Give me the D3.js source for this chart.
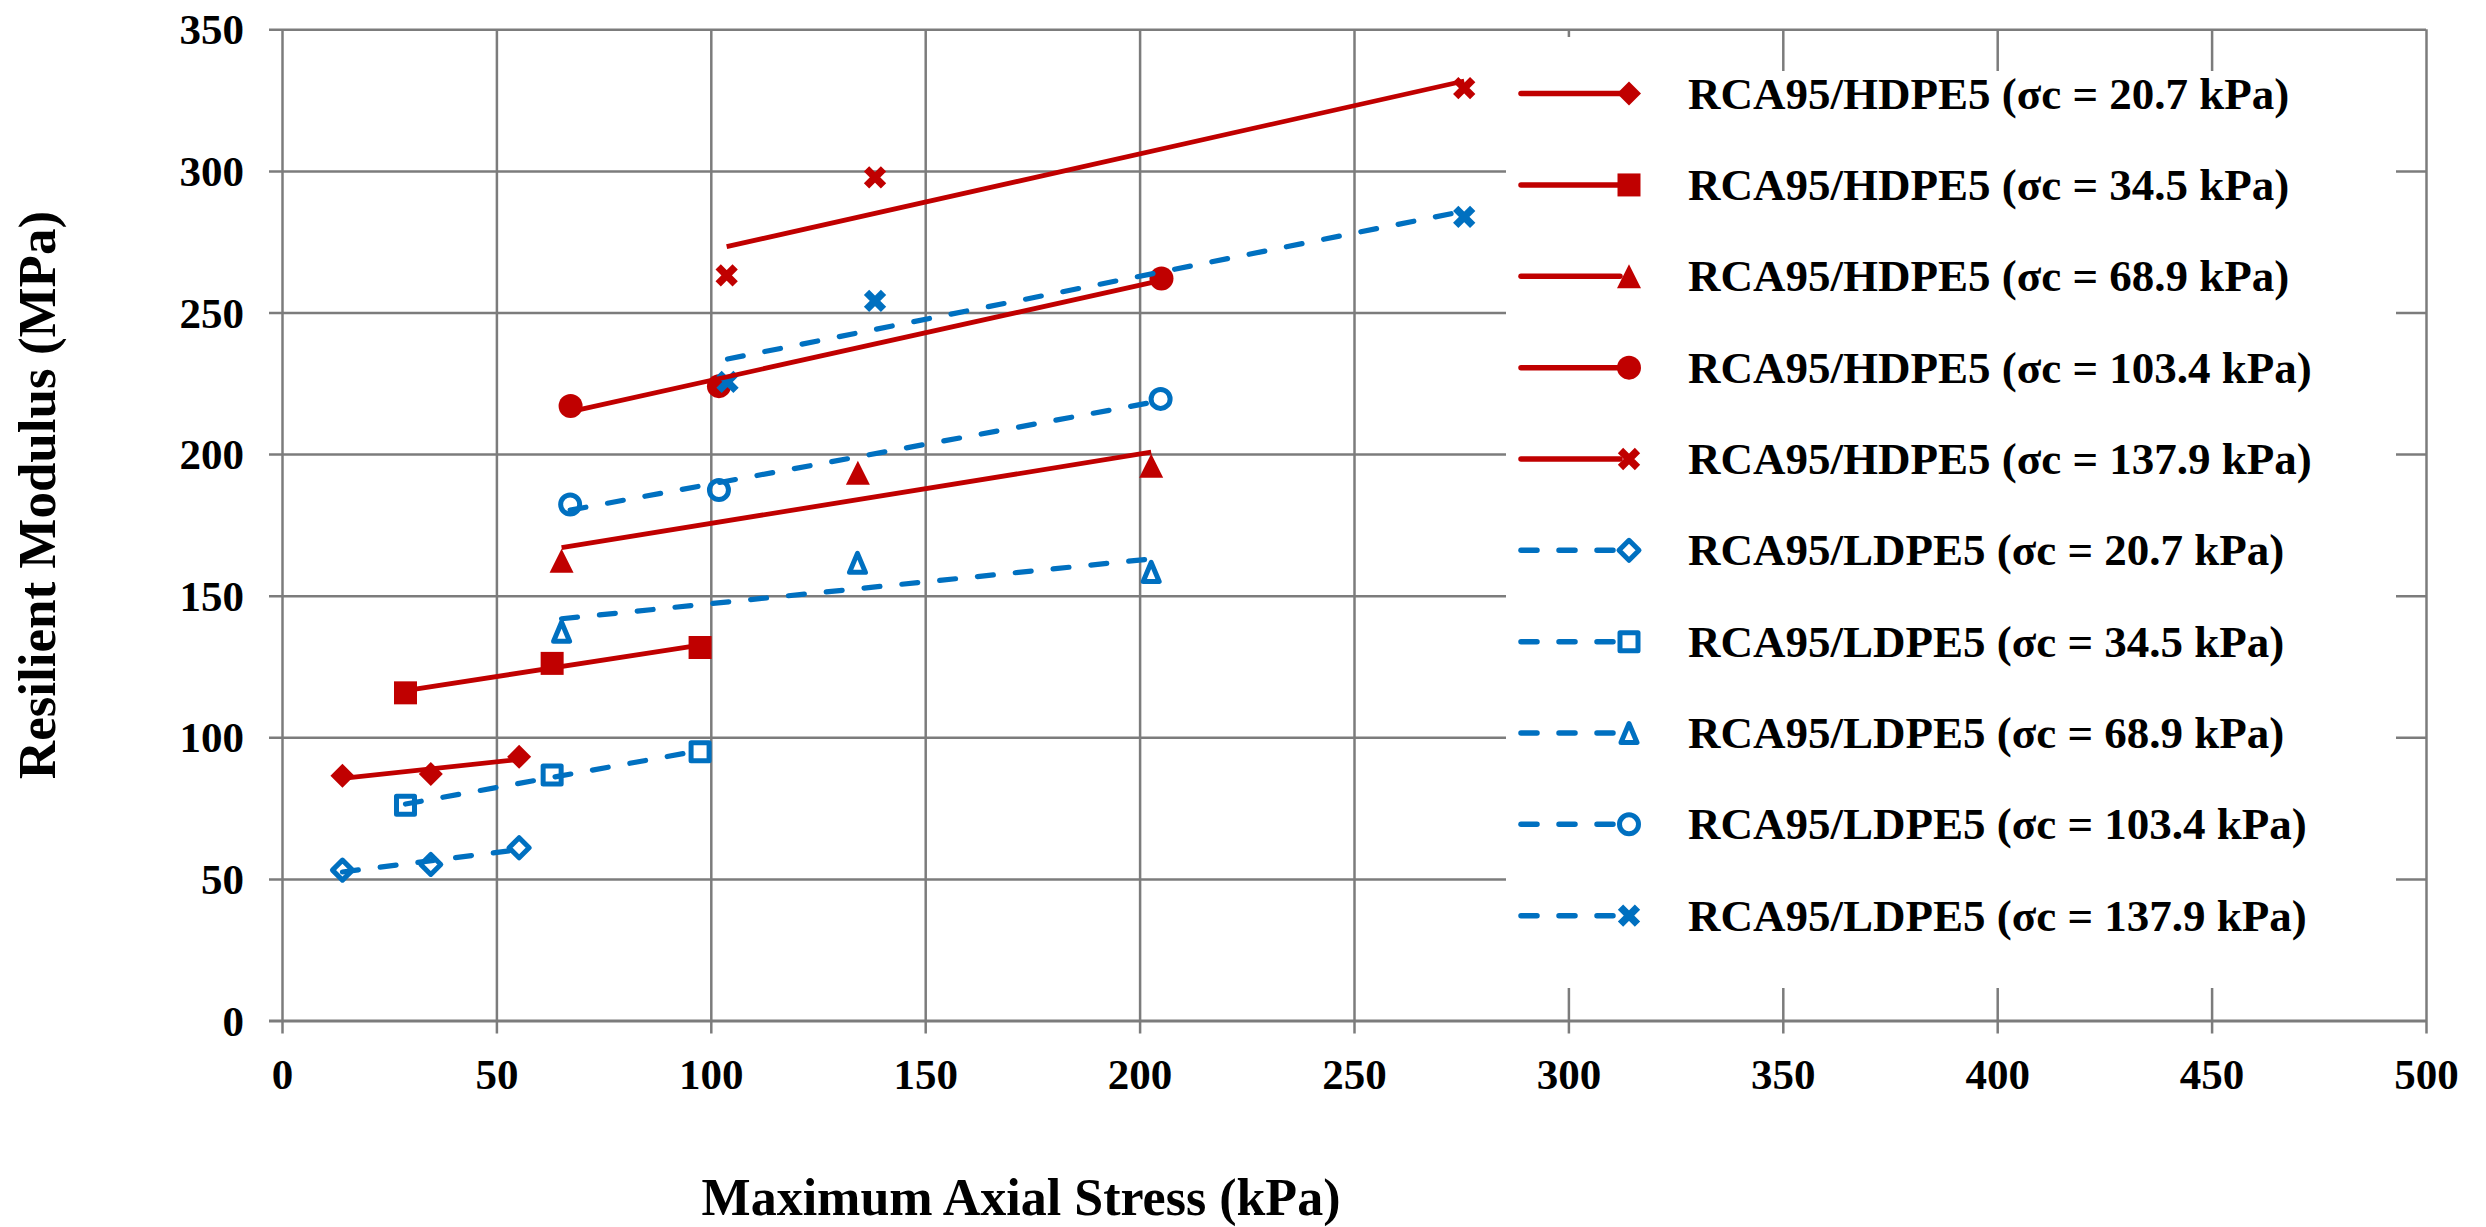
<!DOCTYPE html>
<html>
<head>
<meta charset="utf-8">
<script src="https://cdn.jsdelivr.net/npm/d3@7"></script>
<style>
  body { margin: 0; background: #fff; }
  svg { display: block; }
  text { font-family: "Liberation Serif", "Times New Roman", serif; font-weight: bold; fill: #000; }
</style>
</head>
<body>
<svg id="chart" width="2486" height="1227"></svg>
<script>
// ---------------- data ----------------
const xTicks = [0, 50, 100, 150, 200, 250, 300, 350, 400, 450, 500];
const yTicks = [0, 50, 100, 150, 200, 250, 300, 350];

const seriesLabels = [
  "RCA95/HDPE5 (σc = 20.7 kPa)",
  "RCA95/HDPE5 (σc = 34.5 kPa)",
  "RCA95/HDPE5 (σc = 68.9 kPa)",
  "RCA95/HDPE5 (σc = 103.4 kPa)",
  "RCA95/HDPE5 (σc = 137.9 kPa)",
  "RCA95/LDPE5 (σc = 20.7 kPa)",
  "RCA95/LDPE5 (σc = 34.5 kPa)",
  "RCA95/LDPE5 (σc = 68.9 kPa)",
  "RCA95/LDPE5 (σc = 103.4 kPa)",
  "RCA95/LDPE5 (σc = 137.9 kPa)"
];
const seriesMaterial = ["HDPE","HDPE","HDPE","HDPE","HDPE","LDPE","LDPE","LDPE","LDPE","LDPE"];
const seriesMarker = ["diamond","square","triangle","circle","x","diamond","square","triangle","circle","x"];

// maximum axial stress (kPa)
const hdpe207X  = [14.1, 34.7, 55.3];
const hdpe345X  = [28.8, 63.0, 97.5];
const hdpe689X  = [65.2, 134.3, 202.7];
const hdpe1034X = [67.3, 101.9, 205.1];
const hdpe1379X = [103.7, 138.3, 275.7];
const ldpe207X  = [14.1, 34.7, 55.3];
const ldpe345X  = [28.8, 63.0, 97.5];
const ldpe689X  = [65.2, 134.2, 202.7];
const ldpe1034X = [67.2, 101.9, 204.9];
const ldpe1379X = [103.9, 138.3, 275.7];

// resilient modulus (MPa)
const hdpe207Y  = [86.4, 87.0, 93.1];
const hdpe345Y  = [115.7, 126.1, 131.7];
const hdpe689Y  = [162.3, 193.4, 195.9];
const hdpe1034Y = [217.0, 224.0, 262.0];
const hdpe1379Y = [263.1, 297.7, 329.2];
const ldpe207Y  = [53.1, 55.1, 61.0];
const ldpe345Y  = [76.0, 86.7, 94.9];
const ldpe689Y  = [137.3, 161.6, 158.4];
const ldpe1034Y = [182.2, 187.3, 219.5];
const ldpe1379Y = [225.5, 254.1, 283.8];

const seriesX = [hdpe207X, hdpe345X, hdpe689X, hdpe1034X, hdpe1379X, ldpe207X, ldpe345X, ldpe689X, ldpe1034X, ldpe1379X];
const seriesY = [hdpe207Y, hdpe345Y, hdpe689Y, hdpe1034Y, hdpe1379Y, ldpe207Y, ldpe345Y, ldpe689Y, ldpe1034Y, ldpe1379Y];

// ---------------- layout / style ----------------
const RED = "#C00000", BLUE = "#0070C0", GRID = "#7c7c7c";
const svg = d3.select("#chart");
const x = d3.scaleLinear().domain([0, 500]).range([282, 2426]);
const y = d3.scaleLinear().domain([0, 350]).range([1020.5, 29.3]);
const plotW = x(500) - x(0), plotH = y(0) - y(350);

// gridlines + axes
const gx = svg.append("g").attr("transform", `translate(0,${y(0)})`)
  .call(d3.axisBottom(x).tickValues(xTicks).tickSize(-plotH).tickFormat(d3.format("d")));
gx.select(".domain").remove();
gx.selectAll(".tick line").attr("y1", 13).attr("stroke", GRID).attr("stroke-width", 2.5);
gx.selectAll(".tick text").attr("y", 68).attr("dy", 0).style("font-size", "43px")
  .style("font-family", "Liberation Serif, serif").style("font-weight", "bold").attr("fill", "#000");

const gy = svg.append("g").attr("transform", `translate(${x(0)},0)`)
  .call(d3.axisLeft(y).tickValues(yTicks).tickSize(-plotW).tickFormat(d3.format("d")));
gy.select(".domain").remove();
gy.selectAll(".tick line").attr("x1", -13).attr("stroke", GRID)
  .attr("stroke-width", d => d === 0 ? 3.2 : 2.5);
gy.selectAll(".tick text").attr("x", -38).attr("dy", "0.34em").style("font-size", "43px")
  .style("font-family", "Liberation Serif, serif").style("font-weight", "bold").attr("fill", "#000");

// legend background (covers gridlines)
const legX0 = 1506, legX1 = 2396, legY0 = 71, legY1 = 988;
svg.append("rect").attr("x", legX0).attr("y", legY0).attr("width", legX1 - legX0).attr("height", legY1 - legY0).attr("fill", "#fff");
svg.append("rect").attr("x", legX0).attr("y", 37).attr("width", 170).attr("height", legY0 - 37 + 1).attr("fill", "#fff");

// ---------------- markers ----------------
function markerPath(shape, open) {
  const p = d3.path();
  if (shape === "diamond") {
    const s = open ? 10 : 12;
    p.moveTo(0, -s); p.lineTo(s, 0); p.lineTo(0, s); p.lineTo(-s, 0); p.closePath();
  } else if (shape === "square") {
    const s = open ? 9 : 11.5;
    p.rect(-s, -s, 2 * s, 2 * s);
  } else if (shape === "triangle") {
    if (open) { p.moveTo(0, -9.5); p.lineTo(8, 9.5); p.lineTo(-8, 9.5); p.closePath(); }
    else { p.moveTo(0, -12); p.lineTo(12, 12); p.lineTo(-12, 12); p.closePath(); }
  } else if (shape === "circle") {
    const r = open ? 9.5 : 12;
    p.moveTo(r, 0); p.arc(0, 0, r, 0, 2 * Math.PI);
  } else if (shape === "x") {
    const s = 8.5;
    p.moveTo(-s, -s); p.lineTo(s, s); p.moveTo(-s, s); p.lineTo(s, -s);
  }
  return p.toString();
}
function drawMarker(g, shape, material) {
  const col = material === "HDPE" ? RED : BLUE;
  const open = material === "LDPE";
  const el = g.append("path").attr("d", markerPath(shape, open));
  if (shape === "x") {
    el.attr("fill", "none").attr("stroke", col).attr("stroke-width", 7.5);
  } else if (open) {
    el.attr("fill", "none").attr("stroke", col).attr("stroke-width", 5).attr("stroke-linejoin", "round");
  } else {
    el.attr("fill", col);
  }
  return el;
}

const seriesData = seriesX.map((xs, i) => xs.map((v, j) => ({ x: v, y: seriesY[i][j] })));

const gMarks = svg.append("g");
seriesData.forEach((pts, i) => {
  pts.forEach(d => {
    const g = gMarks.append("g").attr("transform", `translate(${x(d.x)},${y(d.y)})`);
    drawMarker(g, seriesMarker[i], seriesMaterial[i]);
  });
});

// linear trendlines (least squares over each series, spanning its x range)
function linearFit(pts) {
  const mx = d3.mean(pts, d => d.x), my = d3.mean(pts, d => d.y);
  const sxy = d3.sum(pts, d => (d.x - mx) * (d.y - my));
  const sxx = d3.sum(pts, d => (d.x - mx) ** 2);
  const b = sxy / sxx, a = my - b * mx;
  const [x0, x1] = d3.extent(pts, d => d.x);
  return [{ x: x0, y: a + b * x0 }, { x: x1, y: a + b * x1 }];
}
const line = d3.line().x(d => x(d.x)).y(d => y(d.y));
const gTrend = svg.append("g");
seriesData.forEach((pts, i) => {
  const hd = seriesMaterial[i] === "HDPE";
  gTrend.append("path").attr("d", line(linearFit(pts)))
    .attr("fill", "none").attr("stroke", hd ? RED : BLUE).attr("stroke-width", hd ? 4.8 : 5.2)
    .attr("stroke-linecap", hd ? "butt" : "round")
    .attr("stroke-dasharray", hd ? null : "16,22");
});

// ---------------- legend ----------------
const legRowY = d3.scaleLinear().domain([0, 9]).range([93.6, 915.7]);
const gLeg = svg.append("g");
seriesLabels.forEach((lab, i) => {
  const ry = legRowY(i);
  const hd = seriesMaterial[i] === "HDPE";
  gLeg.append("line").attr("x1", 1521).attr("x2", 1620).attr("y1", ry).attr("y2", ry)
    .attr("stroke", hd ? RED : BLUE).attr("stroke-width", 5.5)
    .attr("stroke-linecap", "round")
    .attr("stroke-dasharray", hd ? null : "16,22");
  const g = gLeg.append("g").attr("transform", `translate(1629,${ry})`);
  drawMarker(g, seriesMarker[i], seriesMaterial[i]);
  gLeg.append("text").attr("x", 1688).attr("y", ry + 15).style("font-size", "45px").text(lab);
});

// ---------------- titles ----------------
svg.append("text").attr("x", 1021).attr("y", 1215).attr("text-anchor", "middle")
  .style("font-size", "52px").text("Maximum Axial Stress (kPa)");
svg.append("text").attr("transform", "translate(55,495) rotate(-90)").attr("text-anchor", "middle")
  .style("font-size", "53px").text("Resilient Modulus (MPa)");
</script>
</body>
</html>
